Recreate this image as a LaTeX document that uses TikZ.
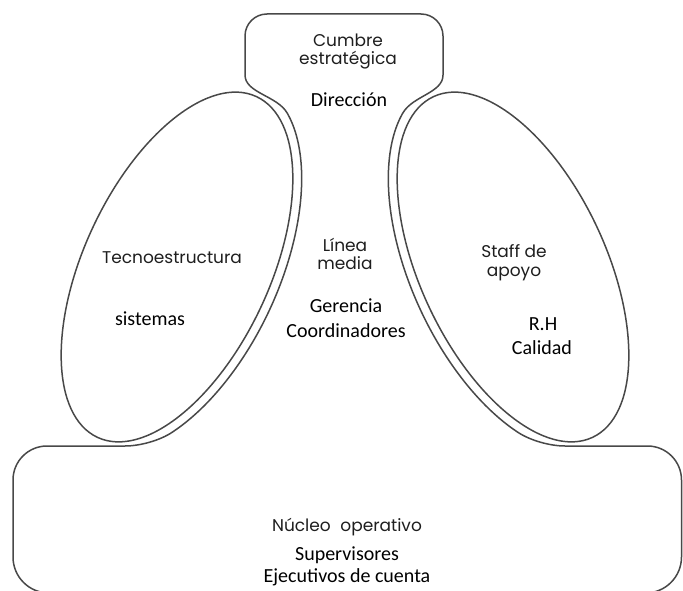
\documentclass[tikz,border=0pt]{standalone}
\usepackage{fontspec}
\setmainfont{Carlito}
\newfontfamily\gothic{Poppins}
\usepackage{xcolor}
\definecolor{linegray}{RGB}{72, 72, 72}
\definecolor{textgray}{RGB}{30, 30, 30}

\begin{document}
\begin{tikzpicture}[x=1pt, y=1pt,
  region/.style={draw=linegray, line width=1.5pt},
  part/.style={font=\gothic\fontsize{17}{20}\selectfont, text=textgray, anchor=base, inner sep=0pt},
  unit/.style={font=\fontsize{20}{24}\selectfont, anchor=base, inner sep=0pt}]
  \useasboundingbox (0,0) rectangle (683,590);
  \clip (0,0) rectangle (683,590);

  % Tecnoestructura and Staff de apoyo
  \draw[region, rotate around={65:(177,323)}] (177,323) ellipse [x radius=188, y radius=93];
  \draw[region, rotate around={-65:(513,323)}] (513,323) ellipse [x radius=188, y radius=93];

  % cumbre, linea media and nucleo as one outline
  \draw[region]
    (245,515) -- (245,554) arc[start angle=180, end angle=90, radius=22]
    -- (421,576) arc[start angle=90, end angle=0, radius=22] -- (443,515)
    .. controls (443,497) and (412.7,494.3) .. (402.8,476.9)
    -- plot[domain=20:140, samples=40, smooth]
       ({513-198*cos(\x)*0.4226-102*sin(\x)*0.9063}, {323+198*cos(\x)*0.9063-102*sin(\x)*0.4226})
    .. controls (530.2,149.5) and (550,144) .. (565,144)
    -- (647.5,144) arc[start angle=90, end angle=0, radius=34]
    -- (681.5,33) arc[start angle=0, end angle=-90, radius=36]
    -- (49,-3) arc[start angle=270, end angle=180, radius=36]
    -- (13,110) arc[start angle=180, end angle=90, radius=34] -- (125,144)
    .. controls (140,144) and (159.8,149.5) .. (172.3,157.8)
    -- plot[domain=140:20, samples=40, smooth]
       ({177+198*cos(\x)*0.4226+102*sin(\x)*0.9063}, {323+198*cos(\x)*0.9063-102*sin(\x)*0.4226})
    .. controls (277.3,494.3) and (245,497) .. (245,515) -- cycle;

  % labels
  \node[part] (cumbre) at (348,543) {Cumbre};
  \node[part] (estrategica) at (348,525) {estratégica};
  \node[unit] (direccion) at (349,483) {Dirección};

  \node[part] (tecno) at (172,326) {Tecnoestructura};
  \node[unit] (sistemas) at (150,265) {sistemas};

  \node[part] (linea) at (345,338) {Línea};
  \node[part] (media) at (345,320) {media};
  \node[unit] (gerencia) at (346,277) {Gerencia};
  \node[unit] (coordinadores) at (346,252) {Coordinadores};

  \node[part] (staff) at (514,332) {Staff de};
  \node[part] (apoyo) at (514,313) {apoyo};
  \node[unit] (rh) at (543,260) {R.H};
  \node[unit] (calidad) at (542,236) {Calidad};

  \node[part] (nucleo) at (347,59) {Núcleo\hspace{5pt} operativo};
  \node[unit] (supervisores) at (347,30) {Supervisores};
  \node[unit] (ejecutivos) at (347,8) {Ejecutivos de cuenta};
\end{tikzpicture}
\end{document}
